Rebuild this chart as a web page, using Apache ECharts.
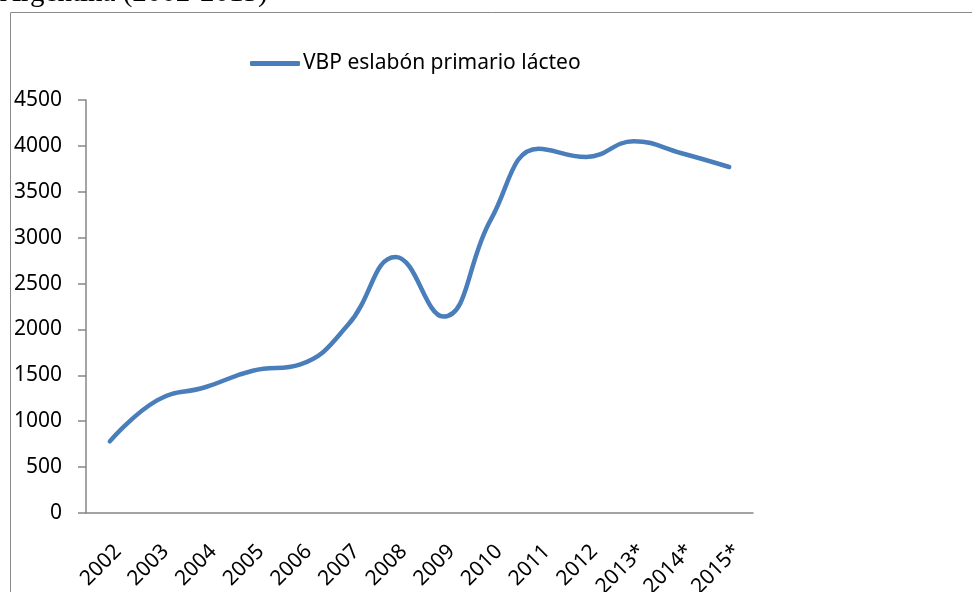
<!DOCTYPE html>
<html>
<head>
<meta charset="utf-8">
<script src="https://cdn.jsdelivr.net/npm/echarts@6/dist/echarts.min.js"></script>
<style>
  html, body { margin: 0; padding: 0; background: #fff; }
  #container { width: 972px; height: 592px; }
</style>
</head>
<body>
<div id="container"></div>
<script>
// años (los marcados con * son estimados)
var years = ['2002', '2003', '2004', '2005', '2006', '2007', '2008', '2009', '2010', '2011', '2012', '2013*', '2014*', '2015*'];
// VBP eslabón primario lácteo
var vbp = [780, 1230, 1370, 1550, 1620, 2050, 2790, 2140, 3200, 3970, 3880, 4050, 3920, 3770];
var seriesName = 'VBP eslabón primario lácteo';

var dom = document.getElementById('container');
var myChart = echarts.init(dom);
var axisColor = '#868686';
var font = 'Noto Sans';

var option = {
    animation: false,
    backgroundColor: '#fff',
    graphic: [
        {
            type: 'rect',
            shape: {x: 10.5, y: 12.5, width: 1000, height: 700},
            style: {fill: 'none', stroke: '#8a8a8a', lineWidth: 1}
        },
        {
            type: 'text',
            left: 0,
            top: -21,
            style: {
                text: 'Argentina (2002-2015)',
                font: '29px "Liberation Serif"',
                fill: '#000'
            }
        }
    ],
    legend: {
        left: 250,
        top: 53,
        padding: 0,
        icon: 'roundRect',
        itemWidth: 50,
        itemHeight: 5,
        textStyle: {fontFamily: font, fontSize: 21, color: '#000', padding: [0, 0, 0, -2]},
        data: [seriesName]
    },
    grid: {left: 86, right: 219, top: 100, bottom: 79, containLabel: false, outerBoundsMode: 'none'},
    xAxis: {
        type: 'category',
        boundaryGap: true,
        data: years,
        axisLine: {lineStyle: {color: axisColor, width: 1.5}},
        axisTick: {length: 7, lineStyle: {color: axisColor, width: 1.5}},
        axisLabel: {
            rotate: 45, margin: 20, align: 'right', verticalAlign: 'top',
            padding: [6, 5, 0, 0],
            fontFamily: font, fontSize: 21, color: '#000'
        },
        splitLine: {show: false}
    },
    yAxis: {
        type: 'value',
        min: 0,
        max: 4500,
        interval: 500,
        axisLine: {show: true, lineStyle: {color: axisColor, width: 1.5}},
        axisTick: {show: true, length: 8, lineStyle: {color: axisColor, width: 1.5}},
        axisLabel: {margin: 24, fontFamily: font, fontSize: 21, color: '#000', formatter: function (v) { return String(v); }},
        splitLine: {show: false}
    },
    series: [
        {
            name: seriesName,
            type: 'line',
            data: vbp,
            smooth: 0.45,
            symbol: 'none',
            lineStyle: {color: '#4a7ebb', width: 4.5, cap: 'round'},
            itemStyle: {color: '#4a7ebb'}
        }
    ]
};
myChart.setOption(option, true);
</script>
</body>
</html>
